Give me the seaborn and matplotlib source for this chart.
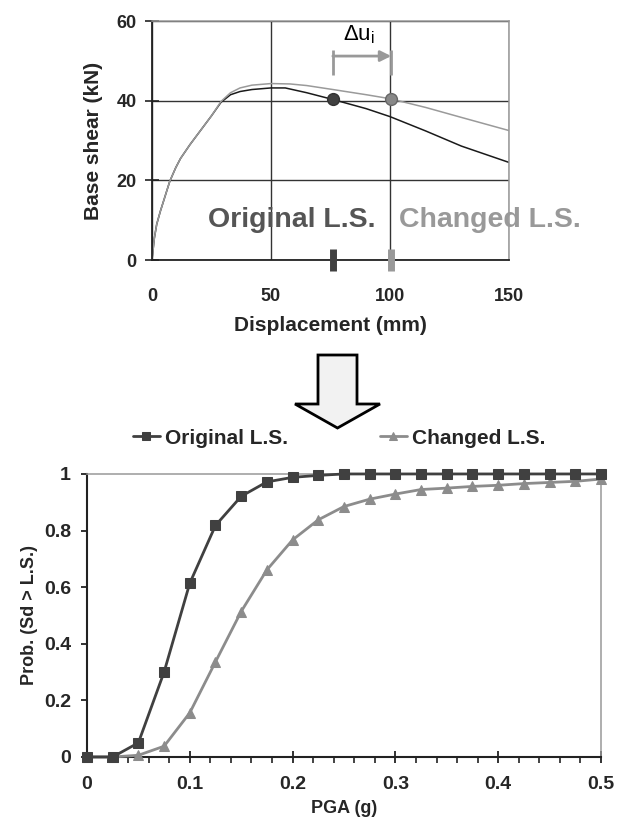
import numpy as np
import pandas as pd
import matplotlib
matplotlib.use("Agg")
import matplotlib.pyplot as plt
import seaborn as sns
from matplotlib.patches import FancyArrow
from matplotlib.ticker import MultipleLocator

# ---- pushover curves (top) ----
disp_orig = [0, 1, 2, 3.5, 5.5, 7.5, 10, 12, 16, 20, 25, 29, 33, 37, 42, 50, 56, 65, 76, 90, 100, 115, 130, 150]
shear_orig = [0, 5.5, 9, 12.2, 16, 19.8, 23.2, 25.5, 29, 32.2, 36.2, 39.6, 41.5, 42.3, 42.8, 43.2, 43.2, 42.0, 40.3, 38.0, 36.0, 32.4, 28.6, 24.5]
disp_chg = [0, 1, 2, 3.5, 5.5, 7.5, 10, 12, 16, 20, 25, 29, 33, 37, 42, 50, 58, 65, 76, 90, 100, 115, 130, 150]
shear_chg = [0, 5.5, 9, 12.2, 16, 19.8, 23.2, 25.5, 29, 32.2, 36.2, 39.8, 42.0, 43.2, 43.9, 44.3, 44.2, 43.8, 42.8, 41.5, 40.5, 38.3, 35.8, 32.5]

# limit states (displacement, shear)
ls_orig = (76, 40.3)
ls_chg = (100.5, 40.5)

# ---- fragility curves (bottom) ----
pga = [0, 0.025, 0.05, 0.075, 0.1, 0.125, 0.15, 0.175, 0.2, 0.225, 0.25, 0.275, 0.3,
       0.325, 0.35, 0.375, 0.4, 0.425, 0.45, 0.475, 0.5]
prob_orig = [0, 0, 0.05, 0.30, 0.614, 0.818, 0.921, 0.972, 0.988, 0.995, 1, 1, 1,
             1, 1, 1, 1, 1, 1, 1, 1]
prob_chg = [0, 0, 0.006, 0.038, 0.156, 0.336, 0.514, 0.661, 0.767, 0.838, 0.885, 0.911, 0.929,
            0.945, 0.950, 0.956, 0.960, 0.966, 0.970, 0.974, 0.982]

dark = "#404040"
grey = "#8c8c8c"

sns.set_theme(style="ticks")
plt.rcParams["font.family"] = ["Liberation Sans", "DejaVu Sans"]
plt.rcParams["font.weight"] = "bold"
plt.rcParams["axes.labelweight"] = "bold"

fig = plt.figure(figsize=(6.28, 8.21), dpi=100)

# ---------------- top plot ----------------
ax1 = fig.add_axes([0.242, 0.6833, 0.5685, 0.2911])
sns.lineplot(x=disp_orig, y=shear_orig, ax=ax1, color="#1a1a1a", lw=1.1, sort=False)
sns.lineplot(x=disp_chg, y=shear_chg, ax=ax1, color="#9a9a9a", lw=1.1, sort=False)

ax1.set_xlim(0, 150)
ax1.set_ylim(0, 60)
ax1.xaxis.set_major_locator(MultipleLocator(50))
ax1.yaxis.set_major_locator(MultipleLocator(20))
ax1.grid(True, color="#333333", lw=1)
for gl in (ax1.get_xgridlines()[0], ax1.get_xgridlines()[-1],
           ax1.get_ygridlines()[0], ax1.get_ygridlines()[-1]):
    gl.set_visible(False)
for s in ("left", "bottom"):
    ax1.spines[s].set_color("#222222")
    ax1.spines[s].set_linewidth(1.3)
for s in ("top", "right"):
    ax1.spines[s].set_color("#999999")
    ax1.spines[s].set_linewidth(1.1)
ax1.tick_params(axis="x", length=0, pad=20, labelsize=13)
ax1.tick_params(axis="y", direction="inout", length=10, width=1.2, color="#222222", pad=6, labelsize=13)
for lab in ax1.get_xticklabels() + ax1.get_yticklabels():
    lab.set_fontweight("bold")
ax1.set_xlabel("Displacement (mm)", fontsize=15, labelpad=8)
ax1.set_ylabel("Base shear (kN)", fontsize=15, labelpad=10)

# limit state points
ax1.plot(*ls_orig, "o", ms=8.5, color=dark, mec="#333333", zorder=5)
ax1.plot(*ls_chg, "o", ms=8.5, color="#888888", mec="#666666", zorder=5)

# limit state markers on the x axis
ax1.vlines(ls_orig[0], -2.75, 2.7, lw=5, color=dark, clip_on=False, zorder=6)
ax1.vlines(ls_chg[0], -2.75, 2.7, lw=5, color="#999999", clip_on=False, zorder=6)
ax1.text(58.8, 10, "Original L.S.", fontsize=20.5, color="#555555", ha="center", va="center", fontweight="bold")
ax1.text(142, 10, "Changed L.S.", fontsize=20.5, color="#999999", ha="center", va="center", fontweight="bold")

# delta u arrow
ax1.vlines([ls_orig[0], ls_chg[0]], 46.4, 52.7, color="#999999", lw=2)
ax1.annotate("", xy=(ls_chg[0], 51.2), xytext=(ls_orig[0], 51.2),
             arrowprops=dict(arrowstyle="-|>", color="#999999", lw=2, mutation_scale=16,
                             shrinkA=0, shrinkB=0))
ax1.text(87, 56.5, r"Δu$_\mathregular{i}$", fontsize=16, ha="center", va="center",
         fontweight="normal", color="black")

# ---------------- big arrow ----------------
fig.add_artist(FancyArrow(3.375, 4.66, 0, -0.73, width=0.39, head_width=0.85, head_length=0.24,
                          length_includes_head=True, transform=fig.dpi_scale_trans,
                          fc="#f2f2f2", ec="black", lw=2))

# ---------------- bottom plot ----------------
ax2 = fig.add_axes([0.1385, 0.078, 0.8185, 0.3447])
sns.lineplot(x=pga, y=prob_orig, ax=ax2, color=dark, lw=2, marker="s", ms=7, mec=dark,
             label="Original L.S.", clip_on=False, zorder=4)
sns.lineplot(x=pga, y=prob_chg, ax=ax2, color=grey, lw=2, marker="^", ms=7.5, mec=grey,
             label="Changed L.S.", clip_on=False, zorder=3)

ax2.set_xlim(0, 0.5)
ax2.set_ylim(0, 1)
ax2.xaxis.set_major_locator(MultipleLocator(0.1))
ax2.xaxis.set_minor_locator(MultipleLocator(0.02))
ax2.yaxis.set_major_locator(MultipleLocator(0.2))
ax2.xaxis.set_major_formatter(lambda v, p: f"{v:g}")
ax2.yaxis.set_major_formatter(lambda v, p: f"{v:g}")
for s in ("left", "bottom"):
    ax2.spines[s].set_color("#222222")
    ax2.spines[s].set_linewidth(1.5)
for s in ("top", "right"):
    ax2.spines[s].set_color("#999999")
    ax2.spines[s].set_linewidth(1.1)
ax2.tick_params(axis="x", which="major", direction="inout", length=8, width=1.3, color="#222222", pad=10)
ax2.tick_params(axis="x", which="minor", direction="out", length=4, width=1.2, color="#222222")
ax2.tick_params(axis="y", direction="out", length=4.5, width=1.3, color="#222222", pad=7)
for lab in ax2.get_xticklabels() + ax2.get_yticklabels():
    lab.set_fontweight("bold")
    lab.set_fontsize(14)
ax2.set_xlabel("PGA (g)", fontsize=13, labelpad=5)
ax2.set_ylabel("Prob. (Sd > L.S.)", fontsize=13, labelpad=4)

ax2.legend(loc="center", bbox_to_anchor=(0.54, 0.4665), bbox_transform=fig.transFigure,
           ncol=2, frameon=False, handlelength=1.3, handletextpad=0.25,
           columnspacing=4.4, markerscale=0.75, prop={"weight": "bold", "size": 15})

fig.savefig("out.png", dpi=100)
